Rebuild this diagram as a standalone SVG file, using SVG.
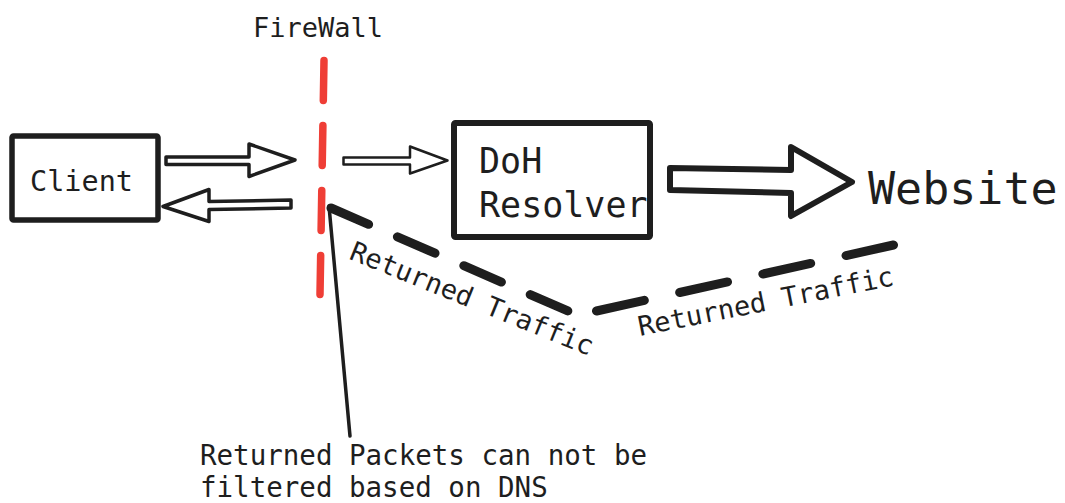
<svg xmlns="http://www.w3.org/2000/svg" width="1065" height="503" viewBox="0 0 1065 503">
  <style>
    .txt { font-family: "DejaVu Sans Mono", "Liberation Mono", monospace; fill: #1e1e1e; }
    .box { fill: #ffffff; stroke: #1e1e1e; stroke-linejoin: round; }
    .hollow { fill: #ffffff; stroke: #1e1e1e; stroke-linejoin: round; stroke-linecap: round; }
    .ret { fill: none; stroke: #1e1e1e; stroke-width: 9; stroke-linecap: round; }
  </style>
  <rect width="1065" height="503" fill="#ffffff"/>

  <!-- firewall: label and red dashed barrier -->
  <g id="firewall">
    <text class="txt" x="253" y="37" font-size="27">FireWall</text>
    <line x1="324" y1="60.5" x2="320" y2="294.5" stroke="#ef3e36" stroke-width="7.5" stroke-linecap="round" stroke-dasharray="40 25"/>
  </g>

  <!-- client node -->
  <g id="client">
    <rect class="box" x="12" y="136" width="146" height="84" rx="1.5" stroke-width="5.5"/>
    <text class="txt" x="30" y="191" font-size="28.5">Client</text>
  </g>

  <!-- DoH resolver node -->
  <g id="doh-resolver">
    <rect class="box" x="454" y="123" width="196" height="114" rx="1.5" stroke-width="6"/>
    <text class="txt" x="479" y="173" font-size="35">DoH</text>
    <text class="txt" x="479" y="217" font-size="35">Resolver</text>
  </g>

  <!-- website node (text only) -->
  <g id="website">
    <text class="txt" x="868" y="204" font-size="45">Website</text>
  </g>

  <!-- connectors -->
  <g id="connectors">
    <!-- client to firewall -->
    <polygon class="hollow" stroke-width="3.5" points="166,157 249,157 249,144 295,160 249,176.5 249,164.5 166,164.5"/>
    <!-- firewall back to client -->
    <polygon class="hollow" stroke-width="3.5" points="291,200 209,201.5 209,189.5 163,206.5 209,221.5 209,209.5 291,208"/>
    <!-- firewall to resolver -->
    <polygon class="hollow" stroke-width="2.5" points="343.5,157.5 410,157.5 410,146.5 447.5,160.5 410,173.5 410,164.5 343.5,164.5"/>
    <!-- resolver to website -->
    <polygon class="hollow" stroke-width="6" points="670,168 791,170 791,147 852,182 791,216 791,193 670,190"/>

    <!-- returned traffic path -->
    <line class="ret" x1="331" y1="208" x2="568" y2="311" stroke-dasharray="41 31.4"/>
    <line class="ret" x1="596.5" y1="311" x2="893.5" y2="245" stroke-dasharray="49 36.2"/>
    <text class="txt" font-size="27" transform="translate(348,258.5) rotate(22)">Returned Traffic</text>
    <text class="txt" font-size="27" transform="translate(640,336) rotate(-11.3)">Returned Traffic</text>

    <!-- annotation pointer -->
    <line x1="329" y1="206" x2="350" y2="436" stroke="#1e1e1e" stroke-width="3.5" stroke-linecap="round"/>
  </g>

  <!-- annotation note -->
  <g id="note">
    <text class="txt" x="200" y="464.5" font-size="27.5">Returned Packets can not be</text>
    <text class="txt" x="200" y="496.5" font-size="27.5">filtered based on DNS</text>
  </g>
</svg>
